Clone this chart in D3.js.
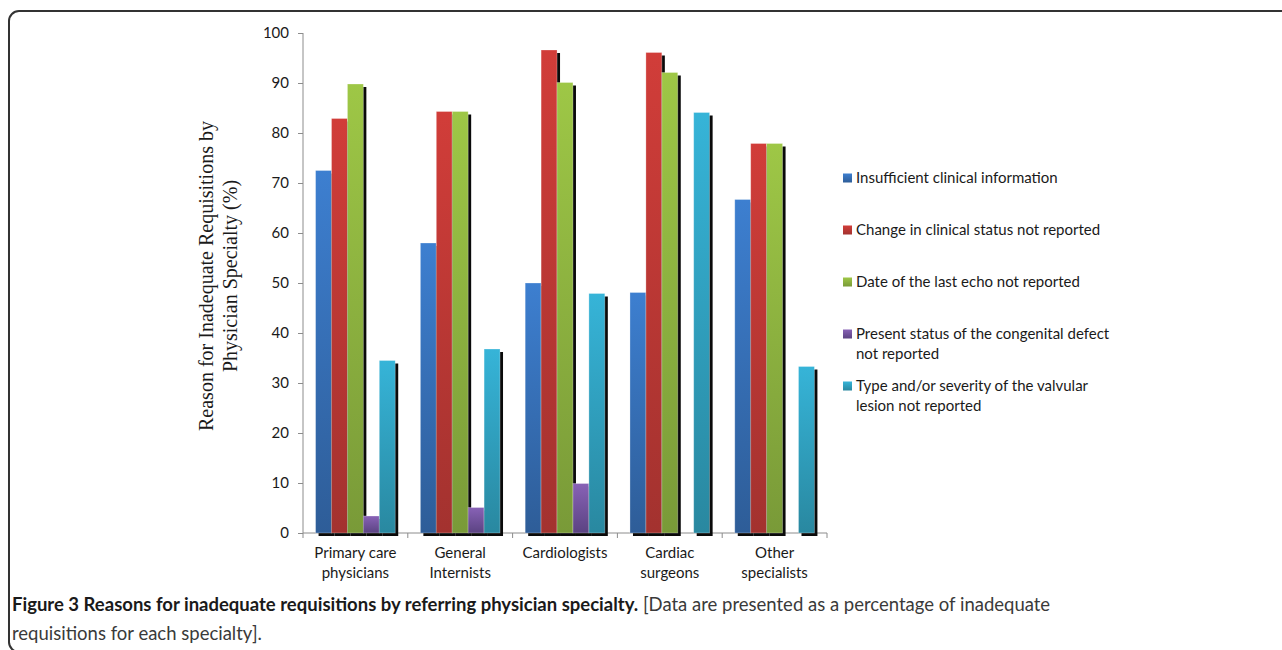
<!DOCTYPE html>
<html>
<head>
<meta charset="utf-8">
<script src="https://cdn.jsdelivr.net/npm/d3@7"></script>
<style>
  html, body { margin: 0; padding: 0; background: #fff; }
  svg { display: block; }
</style>
</head>
<body>
<svg id="chart" width="1282" height="650"></svg>
<script>
// Physician specialties on the x axis
const categories = [
  ["Primary care", "physicians"],
  ["General", "Internists"],
  ["Cardiologists"],
  ["Cardiac", "surgeons"],
  ["Other", "specialists"]
];

// Reasons (series) with their legend text lines
const seriesNames = [
  ["Insufficient clinical information"],
  ["Change in clinical status not reported"],
  ["Date of the last echo not reported"],
  ["Present status of the congenital defect", "not reported"],
  ["Type and/or severity of the valvular", "lesion not reported"]
];

// Percent of inadequate requisitions, one array per reason (ordered by specialty)
const insufficientInfo   = [72.5, 58.0, 50.0, 48.1, 66.7];
const changeNotReported  = [82.9, 84.3, 96.6, 96.1, 77.9];
const lastEchoNotReported = [89.8, 84.3, 90.1, 92.1, 77.9];
const congenitalStatus   = [3.4, 5.1, 9.9, 0, 0];
const valvularLesion     = [34.5, 36.8, 47.9, 84.1, 33.3];

const yTicks = [0, 10, 20, 30, 40, 50, 60, 70, 80, 90, 100];

const seriesValues = [insufficientInfo, changeNotReported, lastEchoNotReported, congenitalStatus, valvularLesion];

// Top / bottom colours of each series' vertical gradient
const seriesColors = [
  ["#3d7fd0", "#2e5d98"],
  ["#d13d39", "#a3322f"],
  ["#9ec746", "#799a38"],
  ["#8862b6", "#5b4382"],
  ["#36b4d8", "#2988a0"]
];

const svg = d3.select("#chart");
const defs = svg.append("defs");

seriesColors.forEach((c, i) => {
  const g = defs.append("linearGradient")
    .attr("id", "grad" + i)
    .attr("x1", 0).attr("y1", 0).attr("x2", 0).attr("y2", 1);
  g.append("stop").attr("offset", "0%").attr("stop-color", c[0]);
  g.append("stop").attr("offset", "100%").attr("stop-color", c[1]);
});

// Figure frame
svg.append("rect")
  .attr("x", 9).attr("y", 11)
  .attr("width", 1300).attr("height", 641)
  .attr("rx", 10).attr("ry", 10)
  .attr("fill", "none")
  .attr("stroke", "#333")
  .attr("stroke-width", 2);

const plotLeft = 303, plotRight = 827, plotTop = 33, plotBottom = 533;

const y = d3.scaleLinear().domain([0, 100]).range([plotBottom, plotTop]);
const x0 = d3.scaleBand()
  .domain(d3.range(categories.length))
  .range([plotLeft, plotRight])
  .paddingInner(0.24)
  .paddingOuter(0.12);
const x1 = d3.scaleBand()
  .domain(d3.range(seriesNames.length))
  .range([0, x0.bandwidth()]);

const axisColor = "#8c8c8c";
const labelFont = "Lato, 'Open Sans', sans-serif";

// Y axis
const yAxis = svg.append("g")
  .attr("transform", `translate(${plotLeft},0)`)
  .call(d3.axisLeft(y).tickValues(yTicks).tickSize(5).tickPadding(9).tickFormat(d3.format("d")));
yAxis.select(".domain").attr("stroke", axisColor).attr("d", `M0,${plotTop}V${plotBottom + 5}`);
yAxis.selectAll(".tick line").attr("stroke", axisColor);
yAxis.selectAll(".tick text")
  .attr("fill", "#1a1a1a")
  .style("font-family", labelFont)
  .style("font-size", "15px");

// X axis line with ticks between categories
const xAxis = svg.append("g");
xAxis.append("line")
  .attr("x1", plotLeft).attr("x2", plotRight)
  .attr("y1", plotBottom).attr("y2", plotBottom)
  .attr("stroke", axisColor);
xAxis.selectAll("line.sep")
  .data(d3.range(1, categories.length + 1))
  .join("line")
  .attr("class", "sep")
  .attr("x1", i => plotLeft + i * x0.step())
  .attr("x2", i => plotLeft + i * x0.step())
  .attr("y1", plotBottom).attr("y2", plotBottom + 5)
  .attr("stroke", axisColor);

// Bars: each drawn with a dark drop shadow behind it
const groups = svg.append("g").selectAll("g")
  .data(categories.map((c, ci) => ci))
  .join("g")
  .attr("transform", ci => `translate(${x0(ci)},0)`);

groups.each(function (ci) {
  const g = d3.select(this);
  seriesValues.forEach((vals, si) => {
    const v = vals[ci];
    if (v <= 0) return;
    const bx = x1(si), bw = x1.bandwidth();
    const by = y(v), bh = y(0) - y(v);
    g.append("rect")
      .attr("x", bx + 3).attr("y", by + 3)
      .attr("width", bw).attr("height", bh)
      .attr("fill", "#0a0a0a");
    g.append("rect")
      .attr("x", bx).attr("y", by)
      .attr("width", bw).attr("height", bh)
      .attr("fill", `url(#grad${si})`)
      .attr("stroke", "rgba(255,255,255,0.35)")
      .attr("stroke-width", 0.8);
  });
});

// Category labels
const catLabels = svg.append("g").selectAll("text")
  .data(categories)
  .join("text")
  .attr("x", (d, i) => x0(i) + x0.bandwidth() / 2)
  .attr("y", 558)
  .attr("text-anchor", "middle")
  .attr("fill", "#1a1a1a")
  .style("font-family", labelFont)
  .style("font-size", "15px");
catLabels.selectAll("tspan")
  .data(d => d)
  .join("tspan")
  .attr("x", function () { return d3.select(this.parentNode).attr("x"); })
  .attr("dy", (d, i) => i === 0 ? 0 : 20)
  .text(d => d);

// Y axis title
svg.append("text")
  .attr("transform", "translate(213,276) rotate(-90)")
  .attr("text-anchor", "middle")
  .attr("fill", "#1a1a1a")
  .style("font-family", "'Liberation Serif', 'DejaVu Serif', serif")
  .style("font-size", "20px")
  .selectAll("tspan")
  .data(["Reason for Inadequate Requisitions by", "Physician Specialty (%)"])
  .join("tspan")
  .attr("x", 0)
  .attr("dy", (d, i) => i === 0 ? 0 : 24)
  .text(d => d);

// Legend
const legend = svg.append("g").selectAll("g")
  .data(seriesNames)
  .join("g")
  .attr("transform", (d, i) => `translate(843,${178 + i * 52})`);
legend.append("rect")
  .attr("x", 0).attr("y", -4.5)
  .attr("width", 9).attr("height", 9)
  .attr("fill", (d, i) => `url(#grad${i})`);
legend.append("text")
  .attr("x", 13).attr("y", 5)
  .attr("fill", "#1a1a1a")
  .style("font-family", labelFont)
  .style("font-size", "15px")
  .selectAll("tspan")
  .data(d => d)
  .join("tspan")
  .attr("x", 13)
  .attr("dy", (d, i) => i === 0 ? 0 : 20)
  .text(d => d);

// Figure caption
const cap = svg.append("text")
  .attr("x", 12).attr("y", 611)
  .style("font-family", "Lato, 'Open Sans', sans-serif")
  .style("font-size", "18.5px");
cap.append("tspan").attr("font-weight", "bold").attr("fill", "#1a1a1a")
  .text("Figure 3 Reasons for inadequate requisitions by referring physician specialty.");
cap.append("tspan").attr("fill", "#3a3a3a")
  .text(" [Data are presented as a percentage of inadequate");
svg.append("text")
  .attr("x", 12).attr("y", 640)
  .attr("fill", "#3a3a3a")
  .style("font-family", "Lato, 'Open Sans', sans-serif")
  .style("font-size", "18.5px")
  .text("requisitions for each specialty].");
</script>
</body>
</html>
